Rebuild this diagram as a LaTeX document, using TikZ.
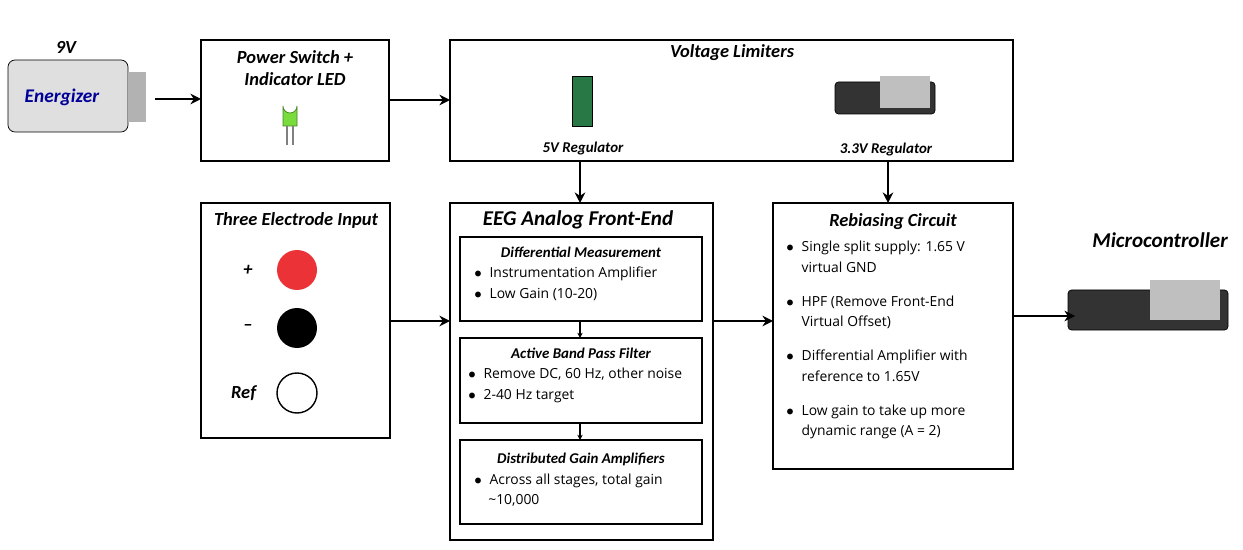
\documentclass[tikz,border=0pt]{standalone}
\usepackage{fontspec}
\setmainfont{Open Sans}
\newfontfamily\ttl{Carlito}
\usetikzlibrary{positioning,arrows.meta}
\definecolor{ledgreen}{RGB}{120,220,60}
\definecolor{pcb}{RGB}{40,120,70}
\definecolor{elred}{RGB}{235,50,55}
\newcommand{\bul}{\makebox[1.1em][l]{$\bullet$}}
\newcommand{\cont}{\makebox[1.1em][l]{}}
\tikzset{
  blk/.style={draw, line width=1.3pt},
  sub/.style={draw, line width=1.1pt},
  ttl/.style={font=\ttl\bfseries\itshape\fontsize{10.5}{12.5}\selectfont},
  stl/.style={font=\ttl\bfseries\itshape\fontsize{8.5}{10}\selectfont},
  txt/.style={font=\fontsize{7.9}{11.5}\selectfont, align=left, anchor=north west, inner sep=0pt},
  flow/.style={-{Stealth[length=6pt,width=6pt]}, line width=1.6pt},
  thin flow/.style={-{Stealth[length=3pt,width=3pt]}, line width=0.6pt}
}
\begin{document}
\begin{tikzpicture}[x=0.02cm,y=-0.02cm]
  \useasboundingbox (0,0) rectangle (1243,550);
  % battery
  \node[ttl] (vbat) at (66,47) {9V};
  \draw[rounded corners=4pt, fill=gray!25] (8,60) rectangle (128,132);
  \fill[gray!60] (128,72) rectangle (146,122);
  \node[font=\ttl\bfseries\itshape\fontsize{11}{12}\selectfont, text=blue!60!black] (brand) at (62,97) {Energizer};
  \coordinate (bat) at (155,99);
  % power switch
  \draw[blk] (201,40) rectangle (389,161);
  \node[ttl, align=center] (psw) at (295,68) {Power Switch +\\Indicator LED};
  \draw[fill=ledgreen, draw=ledgreen!60!black] (283,126) -- (283,106) arc[start angle=180,end angle=0,radius=7] -- (297,126) -- cycle;
  \draw[gray, line width=0.8pt] (287,126) -- (287,145) (293,126) -- (293,145);
  % voltage limiters
  \draw[blk] (450,40) rectangle (1013,161);
  \node[ttl] (vlim) at (732,53) {Voltage Limiters};
  \draw[fill=pcb] (572,76) rectangle (592,126);
  \node[font=\ttl\bfseries\itshape\fontsize{8.5}{10}\selectfont] (r5) at (583,149) {5V Regulator};
  \draw[fill=black!80, rounded corners=2pt] (835,82) rectangle (935,114);
  \fill[gray!50] (880,76) rectangle (930,108);
  \node[font=\ttl\bfseries\itshape\fontsize{8.5}{10}\selectfont] (r33) at (886,150) {3.3V Regulator};
  % electrodes
  \draw[blk] (201,203) rectangle (390,438);
  \node[ttl] (elec) at (296,220) {Three Electrode Input};
  \node[circle, fill=elred, minimum size=40*0.02cm, inner sep=0pt] (ep) at (297,270) {};
  \node[circle, fill=black, minimum size=40*0.02cm, inner sep=0pt] (em) at (297,328) {};
  \node[circle, draw, line width=0.8pt, minimum size=40*0.02cm, inner sep=0pt] (er) at (297,393) {};
  \node[ttl, left=18*0.02cm of ep] {+};
  \node[ttl, left=18*0.02cm of em] {\textendash};
  \node[ttl, left=14*0.02cm of er] {Ref};
  % front end
  \draw[blk] (450,203) rectangle (713,540);
  \node[font=\ttl\bfseries\itshape\fontsize{12}{13}\selectfont] (eeg) at (578,220) {EEG Analog Front-End};
  \draw[sub] (460,237) rectangle (702,321);
  \node[stl] (diff) at (581,252) {Differential Measurement};
  \node[txt] at (474,267) {\bul Instrumentation Amplifier\\\bul Low Gain (10-20)};
  \draw[sub] (460,338) rectangle (702,423);
  \node[stl] (bpf) at (581,353) {Active Band Pass Filter};
  \node[txt] at (468,368) {\bul Remove DC, 60 Hz, other noise\\\bul 2-40 Hz target};
  \draw[sub] (460,440) rectangle (702,524);
  \node[stl] (gain) at (581,459) {Distributed Gain Amplifiers};
  \node[txt] (gtxt) at (474,474) {\bul Across all stages, total gain};
  \node[txt] at (488,494) {\textasciitilde10,000};
  % rebiasing
  \draw[blk] (773,203) rectangle (1013,469);
  \node[ttl] (reb) at (893,222) {Rebiasing Circuit};
  \node[txt] at (786,241) {\bul Single split supply: 1.65 V\\\cont virtual GND\\[8pt]
    \bul HPF (Remove Front-End\\\cont Virtual Offset)\\[8pt]
    \bul Differential Amplifier with\\\cont reference to 1.65V\\[8pt]
    \bul Low gain to take up more\\\cont dynamic range (A = 2)};
  % micro
  \node[font=\ttl\bfseries\itshape\fontsize{12}{13}\selectfont] (mcu) at (1160,240) {Microcontroller};
  \draw[fill=black!80, rounded corners=2pt] (1068,290) rectangle (1228,330);
  \fill[gray!50] (1150,280) rectangle (1220,320);
  \coordinate (mcuin) at (1075,316);
  % arrows
  \draw[flow] (bat) -- (201,99);
  \draw[flow] (389,100) -- (450,100);
  \draw[flow] (580,161) -- (580,203);
  \draw[flow] (888,161) -- (888,203);
  \draw[flow] (390,321) -- (450,321);
  \draw[flow] (713,321) -- (773,321);
  \draw[flow] (1013,316) -- (mcuin);
  \draw[thin flow] (580,321) -- (580,338);
  \draw[thin flow] (580,423) -- (580,440);
\end{tikzpicture}
\end{document}
